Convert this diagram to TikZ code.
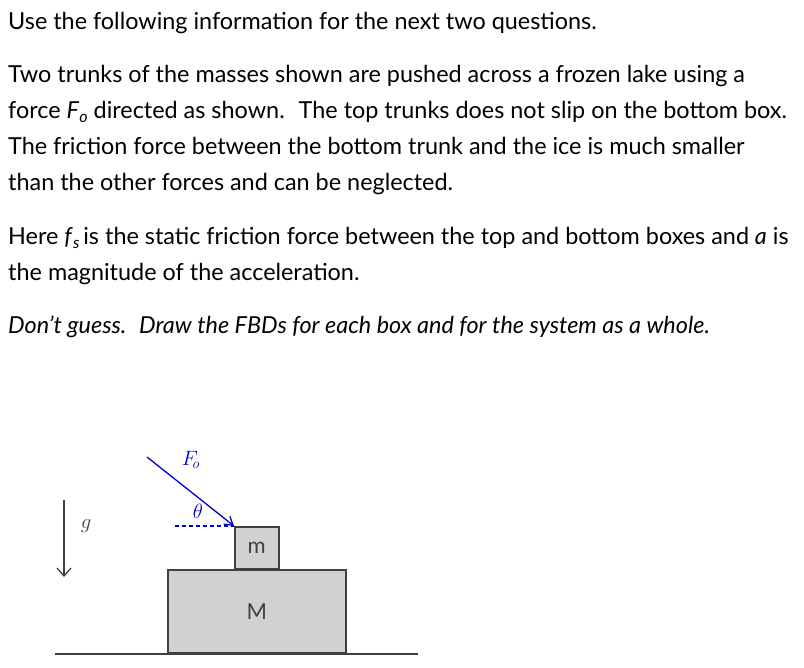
\documentclass[tikz,border=0pt]{standalone}
\usepackage{fontspec}
\setmainfont{Lato}
\usetikzlibrary{arrows.meta}
\begin{document}
\begin{tikzpicture}[x=1pt,y=-1pt,
  txt/.style={anchor=base west,inner sep=0,font=\fontsize{23.4}{26}\selectfont},
  box/.style={draw=black!75,fill=black!18,line width=1.5pt,inner sep=0},
  lbl/.style={font=\fontsize{22}{24}\selectfont,text=black!75}]
\useasboundingbox (0,0) rectangle (804,668);
\node[txt] (t1) at (8,30) {Use the following information for the next two questions.};
\node[txt] (t2) at (8,83) {Two trunks of the masses shown are pushed across a frozen lake using a};
\node[txt] (t3) at (8,119) {force \textit{F}\raisebox{-4pt}{\fontsize{16}{18}\selectfont\textit{o}} directed as shown.~ The top trunks does not slip on the bottom box.};
\node[txt] (t4) at (8,155) {The friction force between the bottom trunk and the ice is much smaller};
\node[txt] (t5) at (8,191) {than the other forces and can be neglected.};
\node[txt] (t6) at (8,245) {Here \textit{f}\raisebox{-4pt}{\fontsize{16}{18}\selectfont\textit{s}}\,is the static friction force between the top and bottom boxes and \textit{a} is};
\node[txt] (t7) at (8,281) {the magnitude of the acceleration.};
\node[txt] (t8) at (8,334) {\textit{Don't guess.~ Draw the FBDs for each box and for the system as a whole.}};
% figure
\node[box,minimum width=178,minimum height=83,anchor=north west] (M) at (167,569) {};
\node[lbl] at (M.center) {M};
\node[box,minimum width=44,minimum height=42,anchor=north west] (m) at (234,526) {};
\node[lbl] at (m.center) {m};
\coordinate (g1) at (55,654); \coordinate (g2) at (418,654);
\draw[black!75,line width=1.5pt] (g1) -- (g2);
\coordinate (fs) at (147,457);
\draw[blue!80!black,line width=1.3pt,-{Straight Barb[length=8pt,width=10pt]}] (fs) -- (m.north west);
\coordinate (ds) at (175,526);
\draw[blue!80!black,line width=1.3pt,dash pattern=on 4pt off 3pt] (ds) -- (m.north west);
\node[text=blue!80!black,font=\fontsize{20}{22}\selectfont] (th) at (198,511) {$\theta$};
\node[text=blue!80!black,font=\fontsize{22}{24}\selectfont] (F) at (191,460) {$F_{\!o}$};
\coordinate (ga) at (64,500); \coordinate (gb) at (64,577);
\draw[black!75,line width=1.3pt,-{Straight Barb[length=8pt,width=14pt]}] (ga) -- (gb);
\node[text=black!75,font=\fontsize{22}{24}\selectfont] (g) at (86,526) {$g$};
\end{tikzpicture}
\end{document}
